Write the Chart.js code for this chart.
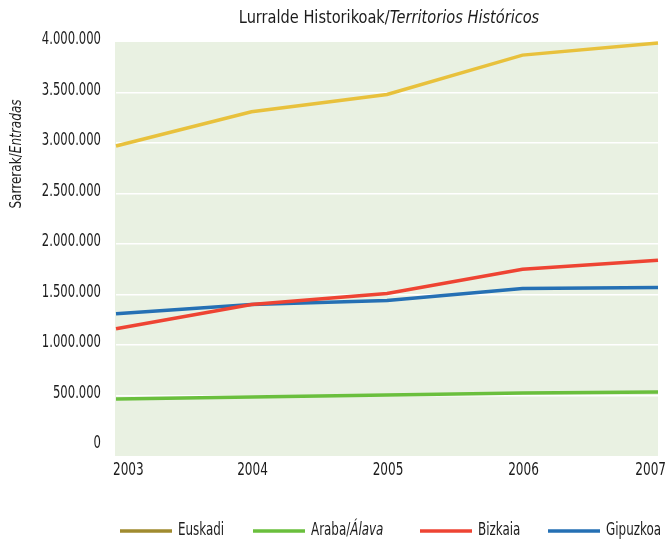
<!DOCTYPE html>
<html>
<head>
<meta charset="utf-8">
<script src="https://cdn.jsdelivr.net/npm/chart.js@4/dist/chart.umd.min.js"></script>
<style>
  html, body { margin: 0; padding: 0; background: #fff; }
  #wrap { width: 668px; height: 543px; position: relative; }
</style>
</head>
<body>
<div id="wrap"><canvas id="chart" width="668" height="543"></canvas></div>
<script>
const years = ['2003', '2004', '2005', '2006', '2007'];
const euskadi = [2970000, 3310000, 3480000, 3870000, 3990000];
const araba = [465000, 485000, 505000, 525000, 535000];
const bizkaia = [1160000, 1400000, 1510000, 1750000, 1840000];
const gipuzkoa = [1310000, 1400000, 1440000, 1560000, 1570000];
const yTicks = [0, 500000, 1000000, 1500000, 2000000, 2500000, 3000000, 3500000, 4000000];

const FONT = "'DejaVu Sans Condensed', 'Liberation Sans Narrow', sans-serif";
const TEXT = '#1c1c1c';

// legend entries: the Euskadi swatch is olive in the original even though its line is yellow
const legendItems = [
    { parts: [['Euskadi', false]], color: '#a08b2f', x: 120 },
    { parts: [['Araba/', false], ['Álava', true]], color: '#6abf3d', x: 253 },
    { parts: [['Bizkaia', false]], color: '#ee4433', x: 420 },
    { parts: [['Gipuzkoa', false]], color: '#2570b4', x: 548 }
];

function fmt(v) {
    return String(v).replace(/\B(?=(\d{3})+(?!\d))/g, '.');
}

// draw text pieces (some italic), squeezed horizontally by sx to look like a condensed face
function drawText(ctx, parts, x, y, size, sx, align) {
    let w = 0;
    parts.forEach(([txt, it]) => {
        ctx.font = (it ? 'italic ' : '') + size + 'px ' + FONT;
        w += ctx.measureText(txt).width * sx;
    });
    let x0 = align === 'center' ? x - w / 2 : align === 'right' ? x - w : x;
    ctx.textAlign = 'left';
    parts.forEach(([txt, it]) => {
        ctx.font = (it ? 'italic ' : '') + size + 'px ' + FONT;
        ctx.save();
        ctx.translate(x0, y);
        ctx.scale(sx, 1);
        ctx.fillText(txt, 0, 0);
        ctx.restore();
        x0 += ctx.measureText(txt).width * sx;
    });
}

const decor = {
    id: 'decor',
    beforeDraw(chart) {
        const { ctx, chartArea: a } = chart;
        ctx.save();
        ctx.fillStyle = '#e9f1e2';
        ctx.fillRect(a.left - 1, a.top, a.right - a.left + 1, a.bottom - a.top + 10);
        ctx.restore();
    },
    afterDraw(chart) {
        const { ctx } = chart;
        const xs = chart.scales.x;
        const ys = chart.scales.y;
        ctx.save();
        ctx.fillStyle = TEXT;
        ctx.textBaseline = 'middle';

        // title
        drawText(ctx, [['Lurralde Historikoak/', false], ['Territorios Históricos', true]], 389, 18, 18, 0.9, 'center');

        // y axis title
        ctx.save();
        ctx.translate(17, 154);
        ctx.rotate(-Math.PI / 2);
        drawText(ctx, [['Sarrerak/', false], ['Entradas', true]], 0, 0, 16, 0.84, 'center');
        ctx.restore();

        // y tick labels
        yTicks.forEach(v => {
            drawText(ctx, [[fmt(v), false]], 101, ys.getPixelForValue(v) - 2, 17, 0.76, 'right');
        });

        // x labels
        years.forEach((y, i) => {
            const px = xs.getPixelForValue(i);
            if (i === 0) drawText(ctx, [[y, false]], px - 3, 471, 17, 0.79, 'left');
            else if (i === years.length - 1) drawText(ctx, [[y, false]], px + 8, 471, 17, 0.79, 'right');
            else drawText(ctx, [[y, false]], px + 1, 471, 17, 0.79, 'center');
        });

        // legend
        legendItems.forEach(it => {
            ctx.strokeStyle = it.color;
            ctx.lineWidth = 3.5;
            ctx.beginPath();
            ctx.moveTo(it.x, 531);
            ctx.lineTo(it.x + 52, 531);
            ctx.stroke();
            ctx.fillStyle = TEXT;
            drawText(ctx, it.parts, it.x + 58, 531, 17, 0.78, 'left');
        });
        ctx.restore();
    }
};

function line(data, color) {
    return {
        data: data,
        borderColor: color,
        backgroundColor: color,
        borderWidth: 3.5,
        pointRadius: 0,
        tension: 0,
        clip: false
    };
}

new Chart(document.getElementById('chart'), {
    type: 'line',
    data: {
        labels: years,
        datasets: [
            line(euskadi, '#e8c13c'),
            line(araba, '#6abf3d'),
            line(bizkaia, '#ee4433'),
            line(gipuzkoa, '#2570b4')
        ]
    },
    options: {
        responsive: false,
        animation: false,
        layout: { padding: { left: 0, right: 10, top: 42, bottom: 0 } },
        plugins: {
            legend: { display: false },
            title: { display: false },
            tooltip: { enabled: false }
        },
        scales: {
            x: {
                offset: false,
                grid: { display: false },
                border: { display: false },
                ticks: { display: false },
                afterFit(s) { s.height = 97; }
            },
            y: {
                min: 0,
                max: 4000000,
                afterBuildTicks(s) { s.ticks = yTicks.map(v => ({ value: v })); },
                border: { display: false },
                grid: {
                    drawTicks: false,
                    lineWidth: 1.5,
                    color: c => (c.tick.value === 0 || c.tick.value === 4000000) ? 'rgba(0,0,0,0)' : '#ffffff'
                },
                ticks: { display: false },
                afterFit(s) { s.width = 116; }
            }
        }
    },
    plugins: [decor]
});
</script>
</body>
</html>
